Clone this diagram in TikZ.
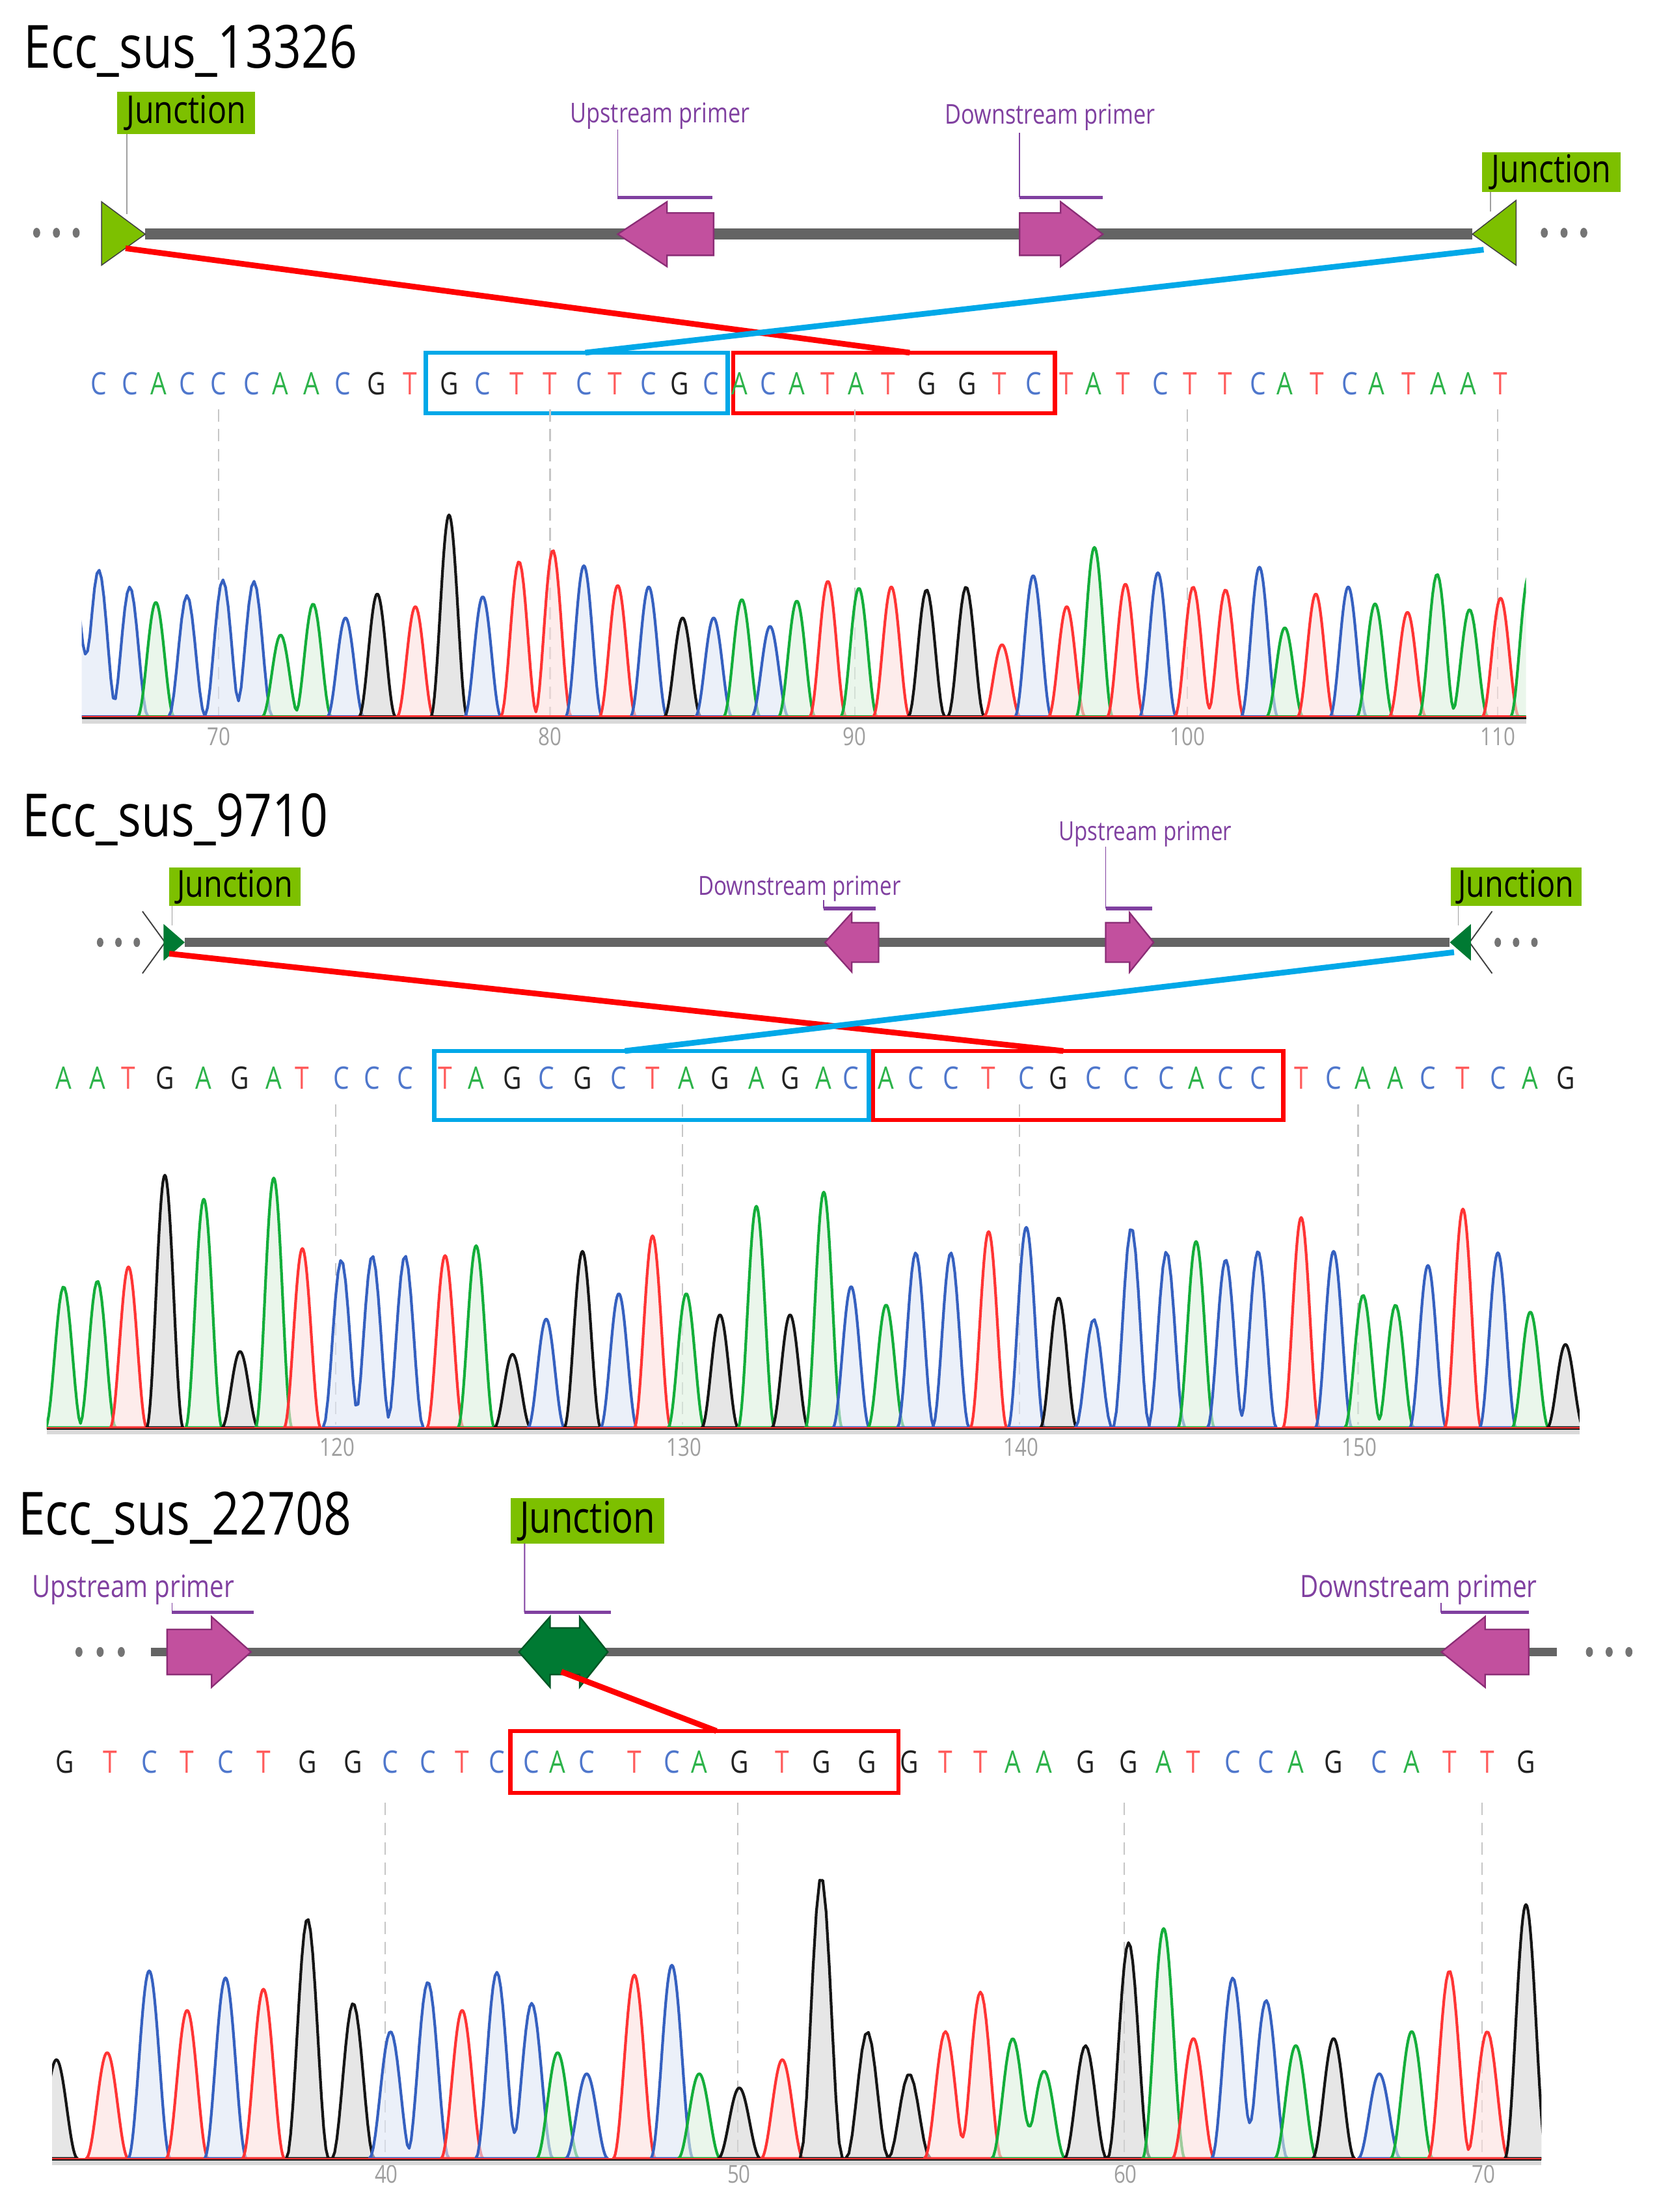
\documentclass[tikz,border=0pt]{standalone}
\usepackage{fontspec}
\setmainfont{Open Sans}[FakeStretch=0.82]
\usetikzlibrary{fit}

\definecolor{jlime}{HTML}{7DC000}
\definecolor{jdark}{HTML}{007A33}
\definecolor{prim}{HTML}{C2509E}
\definecolor{primdk}{HTML}{8A2C75}
\definecolor{plab}{HTML}{8040A0}
\definecolor{bbone}{HTML}{646464}
\definecolor{cutred}{HTML}{FF0000}
\definecolor{cutblue}{HTML}{00A8E8}
\definecolor{trA}{HTML}{13AE3A}
\definecolor{trC}{HTML}{3560C0}
\definecolor{trG}{HTML}{151515}
\definecolor{trT}{HTML}{FF3434}
\definecolor{fiA}{HTML}{DDF1DF}
\definecolor{fiC}{HTML}{DFE6F6}
\definecolor{fiG}{HTML}{D6D6D6}
\definecolor{fiT}{HTML}{FCE0DE}
\definecolor{lA}{HTML}{2DB34A}
\definecolor{lC}{HTML}{4F77CC}
\definecolor{lG}{HTML}{222222}
\definecolor{lT}{HTML}{FF5C5C}

\def\pw{13}   % half width of one peak
\def\base{508}

\tikzset{
    x=0.02cm, y=-0.02cm,
    declare function={bp(\t,\m,\k)=\k*(1+cos(180*min(abs(\t-\m),\pw)/\pw))/2;},
    every node/.style = {inner sep=0pt, outer sep=0pt},
    title/.style = {anchor=base west, font=\fontsize{24}{28}\selectfont},
    junc/.style = {fill=jlime, font=\fontsize{15.5}{18}\selectfont},
    plabel/.style = {text=plab, font=\fontsize{11}{13}\selectfont},
    bracket/.style = {draw=plab, line width=1.4pt},
    leader/.style = {draw=plab, line width=0.5pt},
    jleader/.style = {draw=gray!75, line width=0.5pt},
    backbone/.style = {draw=bbone, line width=4.4pt},
    dots/.style = {fill=bbone!90},
    jtri/.style = {fill=jlime, draw=gray!50!black, line width=0.4pt},
    primer/.style = {fill=prim, draw=primdk, line width=0.6pt, line join=miter},
    redbox/.style = {draw=cutred, line width=1.7pt},
    bluebox/.style = {draw=cutblue, line width=1.7pt},
    redline/.style = {draw=cutred, line width=2.3pt},
    blueline/.style = {draw=cutblue, line width=2.3pt},
    seq/.style = {font=\fontsize{12.5}{15}\selectfont},
    tick/.style = {draw=gray!45, line width=0.6pt, dash pattern=on 5pt off 3pt},
    tnum/.style = {text=gray!75, font=\fontsize{10}{12}\selectfont},
    axisbar/.style = {draw=gray!30, line width=2.2pt},
    tA/.style = {draw=trA, fill=fiA, fill opacity=.6, line width=1.1pt, line join=round},
    tC/.style = {draw=trC, fill=fiC, fill opacity=.6, line width=1.1pt, line join=round},
    tG/.style = {draw=trG, fill=fiG, fill opacity=.6, line width=1.1pt, line join=round},
    tT/.style = {draw=trT, fill=fiT, fill opacity=.6, line width=1.1pt, line join=round}
}

% one trace segment: neighbouring peaks of one colour summed
\newcommand{\peakrun}[2]{%
  \gdef\rexpr{0}%
  \foreach \pc/\ph [count=\rn] in {#2}{%
    \ifnum\rn=1 \xdef\rlo{\pc}\fi
    \xdef\rhi{\pc}%
    \xdef\rexpr{\unexpanded\expandafter{\rexpr}+bp(\noexpand\x,\pc,\ph)}%
  }%
  \filldraw[#1] plot[domain=\rlo-\pw:\rhi+\pw, samples=41] (\x,{\base-(\rexpr)}) -- cycle;
}

\begin{document}
\begin{tikzpicture}
  \useasboundingbox (0,0) rectangle (1176,1568);
  \fill[white] (0,0) rectangle (1176,1568);

  %% Ecc_sus_13326
  \node[title] (T1) at (17,48) {Ecc\_sus\_13326};
  \node[junc, minimum width=1.96cm, minimum height=.6cm] (J1a) at (132,80) {Junction};
  \node[junc, minimum width=1.96cm, minimum height=.56cm] (J1b) at (1100,122) {Junction};
  \node[plabel] (U1) at (468,82) {Upstream primer};
  \node[plabel] (D1) at (744.5,83) {Downstream primer};

  \draw[backbone] (103,166) -- (1044,166);
  \foreach \dx in {26,40,54,1095,1109,1123}
    \fill[dots] (\dx,165) ellipse[x radius=2.5, y radius=3.5];
  \filldraw[jtri] (72,143) -- (103,166) -- (72,188) -- cycle;
  \filldraw[jtri] (1075,142) -- (1044,166) -- (1075,188) -- cycle;
  \draw[jleader] (90,95) -- (90,152);
  \draw[jleader] (1057,136) -- (1057,150);

  \filldraw[primer] (438,166) -- (473,143) -- (473,151) -- (506,151) -- (506,181) -- (473,181) -- (473,189) -- cycle;
  \filldraw[primer] (782,166) -- (752,143) -- (752,151) -- (723,151) -- (723,181) -- (752,181) -- (752,189) -- cycle;
  \draw[bracket] (438,140) -- (505,140);
  \draw[leader] (438,140) -- (438,92);
  \draw[bracket] (723,140) -- (782,140);
  \draw[leader] (723,140) -- (723,94);

  \node[bluebox, fit={(302,250) (516,293)}] (B1) {};
  \node[redbox, fit={(520,250) (748,293)}] (R1) {};
  \coordinate (jl1) at (89,176);
  \coordinate (jr1) at (1052,177);
  \coordinate (rt1) at (645,250);
  \coordinate (bt1) at (415,250);
  \draw[redline] (jl1) -- (rt1);
  \draw[blueline] (jr1) -- (bt1);

  \foreach \sx/\sl [count=\i] in {70/C,92.1/C,112.4/A,132.6/C,154.7/C,178.6/C,198.8/A,220.9/A,243/C,266.9/G,290.7/T,318.4/G,342.3/C,366.2/T,390.1/T,414/C,436.1/T,460/C,482.1/G,504.2/C,524.4/A,544.6/C,564.9/A,587/T,607/A,630/T,657/G,686/G,708.5/T,733/C,756/T,775.5/A,796.5/T,823/C,844/T,869/T,892/C,911/A,934/T,957/C,976/A,999/T,1020/A,1041/A,1064/T}
    \node[seq, text=l\sl] (sa\i) at (\sx,272) {\sl};

  % chromatogram
  \foreach \tx/\tl in {155/70,390/80,606/90,842/100,1062/110}{
    \draw[tick] (\tx,290) -- (\tx,507);
    \node[tnum] (ta\tl) at (\tx,522) {\tl};
  }
  \draw[axisbar] (58,511) -- (1082,511);
  \begin{scope}
    \clip (58,300) rectangle (1082,515);
    \peakrun{tC}{52/100,70/104,92/92}
    \peakrun{tA}{110.5/81}
    \peakrun{tC}{132.6/86,158/97,180/96}
    \peakrun{tA}{199/58,222/80}
    \peakrun{tC}{245/70}
    \peakrun{tG}{267.5/87}
    \peakrun{tT}{294.5/78}
    \peakrun{tG}{318.4/143}
    \peakrun{tC}{342.3/85}
    \peakrun{tT}{368/110,392/118}
    \peakrun{tC}{414/107}
    \peakrun{tT}{438/93}
    \peakrun{tC}{460/92}
    \peakrun{tG}{484/70}
    \peakrun{tC}{506/70}
    \peakrun{tA}{526/83}
    \peakrun{tC}{546/64}
    \peakrun{tA}{565/82}
    \peakrun{tT}{587/96}
    \peakrun{tA}{609/91}
    \peakrun{tT}{632/92}
    \peakrun{tG}{657/90,685/92}
    \peakrun{tT}{710.5/51}
    \peakrun{tC}{732.6/100}
    \peakrun{tT}{756.4/78}
    \peakrun{tA}{776/120}
    \peakrun{tT}{798/94}
    \peakrun{tC}{821/102}
    \peakrun{tT}{846/92,869/90}
    \peakrun{tC}{893/106}
    \peakrun{tA}{911/63}
    \peakrun{tT}{933/87}
    \peakrun{tC}{956/92}
    \peakrun{tA}{975/80}
    \peakrun{tT}{998/74}
    \peakrun{tA}{1019/101,1042/76}
    \peakrun{tT}{1064/84}
    \peakrun{tA}{1084/100}
  \end{scope}
  \draw[trG, line width=.7pt] (58,509) -- (1082,509);
  \draw[trT, line width=.5pt] (58,508) -- (1082,508);

  %% Ecc_sus_9710
  \def\base{1012}
  \node[title] (T2) at (16,593) {Ecc\_sus\_9710};
  \node[junc, minimum width=1.86cm, minimum height=.54cm, font=\fontsize{15}{18}\selectfont] (J2a) at (166.5,628.5) {Junction};
  \node[junc, minimum width=1.86cm, minimum height=.54cm, font=\fontsize{15}{18}\selectfont] (J2b) at (1075,628.5) {Junction};
  \node[plabel, font=\fontsize{10.6}{13}\selectfont] (D2) at (567,630) {Downstream primer};
  \node[plabel, font=\fontsize{10.6}{13}\selectfont] (U2) at (812,591) {Upstream primer};

  \draw[backbone, line width=3.7pt] (131,668) -- (1028,668);
  \foreach \dx in {71,84,97,1062,1075,1088}
    \fill[dots] (\dx,668) ellipse[x radius=2.3, y radius=3.3];
  \draw[jleader, draw=gray!50!black] (101,646) -- (117,668) -- (101,690);
  \fill[jdark] (116,655) -- (131,668) -- (116,681) -- cycle;
  \draw[jleader, draw=gray!50!black] (1058,646) -- (1042,668) -- (1058,690);
  \fill[jdark] (1043,655) -- (1028,668) -- (1043,681) -- cycle;
  \draw[jleader] (122,642) -- (122,656);
  \draw[jleader] (1034,642) -- (1034,656);

  \filldraw[primer] (585,668) -- (604,647) -- (604,654) -- (623,654) -- (623,682) -- (604,682) -- (604,689) -- cycle;
  \draw[bracket] (584,644) -- (621,644);
  \draw[leader] (584,644) -- (584,638);
  \filldraw[primer] (818,668) -- (801,647) -- (801,654) -- (784,654) -- (784,682) -- (801,682) -- (801,689) -- cycle;
  \draw[bracket] (784,644) -- (817,644);
  \draw[leader] (784,644) -- (784,600);

  \node[bluebox, fit={(308,745) (616,794)}] (B2) {};
  \node[redbox, fit={(619,745) (910,794)}] (R2) {};
  \coordinate (jl2) at (120,676);
  \coordinate (jr2) at (1031,675);
  \coordinate (rt2) at (754,745);
  \coordinate (bt2) at (443,745);
  \draw[redline] (jl2) -- (rt2);
  \draw[blueline] (jr2) -- (bt2);

  \foreach \sx/\sl [count=\i] in {45.1/A,69.1/A,91.1/T,116.9/G,144.5/A,170.2/G,194.1/A,214.4/T,242/C,264/C,287.2/C,315.6/T,337.6/A,363.4/G,387.3/C,413/G,438.8/C,462.7/T,486.6/A,510.5/G,536.3/A,560.2/G,584.1/A,603.5/C,628.3/A,649.3/C,674.2/C,701/T,727.7/C,750.6/G,775.5/C,802.2/C,827.1/C,848.1/A,869.1/C,892/C,922.6/T,945.6/C,966.5/A,989.5/A,1012.5/C,1037.3/T,1062.1/C,1085.1/A,1110/G}
    \node[seq, text=l\sl] (sb\i) at (\sx,764) {\sl};

  \foreach \tx/\tl in {238/120,484/130,723/140,963/150}{
    \draw[tick] (\tx,783) -- (\tx,1010);
    \node[tnum] (tb\tl) at (\tx+1,1026) {\tl};
  }
  \draw[axisbar] (33,1015) -- (1120,1015);
  \begin{scope}
    \clip (33,790) rectangle (1120,1019);
    \peakrun{tA}{45.1/100,69.1/104}
    \peakrun{tT}{91.1/114}
    \peakrun{tG}{116.9/179}
    \peakrun{tA}{144.5/162}
    \peakrun{tG}{170.2/54}
    \peakrun{tA}{194.1/177}
    \peakrun{tT}{214.4/127}
    \peakrun{tC}{242/119,264/122,287.2/122}
    \peakrun{tT}{315.6/122}
    \peakrun{tA}{337.6/129}
    \peakrun{tG}{363.4/52}
    \peakrun{tC}{387.3/77}
    \peakrun{tG}{413/125}
    \peakrun{tC}{438.8/95}
    \peakrun{tT}{462.7/136}
    \peakrun{tA}{486.6/95}
    \peakrun{tG}{510.5/80}
    \peakrun{tA}{536.3/157}
    \peakrun{tG}{560.2/80}
    \peakrun{tA}{584.1/167}
    \peakrun{tC}{603.5/100}
    \peakrun{tA}{628.3/87}
    \peakrun{tC}{649.3/124,674.2/124}
    \peakrun{tT}{701/139}
    \peakrun{tC}{727.7/142}
    \peakrun{tG}{750.6/92}
    \peakrun{tC}{775.5/77,802.2/142,827.1/125}
    \peakrun{tA}{848.1/132}
    \peakrun{tC}{869.1/119,892/125}
    \peakrun{tT}{922.6/149}
    \peakrun{tC}{945.6/125}
    \peakrun{tA}{966.5/94,989.5/87}
    \peakrun{tC}{1012.5/115}
    \peakrun{tT}{1037.3/155}
    \peakrun{tC}{1062.1/124}
    \peakrun{tA}{1085.1/82}
    \peakrun{tG}{1110/59}
  \end{scope}
  \draw[trG, line width=.7pt] (33,1013) -- (1120,1013);
  \draw[trT, line width=.5pt] (33,1012) -- (1120,1012);

  %% Ecc_sus_22708
  \def\base{1530}
  \def\pw{15}
  \node[title] (T3) at (13,1088) {Ecc\_sus\_22708};
  \node[junc, minimum width=2.18cm, minimum height=.64cm, font=\fontsize{17.5}{20}\selectfont] (J3) at (416.5,1078) {Junction};
  \node[plabel, font=\fontsize{12.4}{15}\selectfont] (U3) at (94.5,1127) {Upstream primer};
  \node[plabel, font=\fontsize{12.4}{15}\selectfont] (D3) at (1006,1127) {Downstream primer};

  \draw[backbone, line width=3.4pt] (107,1171) -- (1104,1171);
  \foreach \dx in {56,71,86,1127,1141,1155}
    \fill[dots] (\dx,1171) ellipse[x radius=2.5, y radius=3.5];

  \filldraw[primer] (178,1171) -- (150,1146) -- (150,1155) -- (118.5,1155) -- (118.5,1187) -- (150,1187) -- (150,1196) -- cycle;
  \draw[bracket] (122,1143) -- (180,1143);
  \draw[leader] (122,1143) -- (122,1136);
  \filldraw[primer] (1022,1171) -- (1053,1146) -- (1053,1155) -- (1084,1155) -- (1084,1187) -- (1053,1187) -- (1053,1196) -- cycle;
  \draw[bracket] (1022,1143) -- (1084,1143);
  \draw[leader] (1022,1143) -- (1022,1136);
  \filldraw[primer, fill=jdark, draw=jdark!70!black] (368,1171) -- (390,1146) -- (390,1154) -- (411,1154) -- (411,1146) -- (431,1171) -- (411,1196) -- (411,1187) -- (390,1187) -- (390,1196) -- cycle;
  \draw[bracket] (372,1143) -- (433,1143);
  \draw[leader] (J3.south west) ++(10,0) -- (372,1143);

  \node[redbox, fit={(362,1227) (637,1271)}] (R3) {};
  \coordinate (jc3) at (398,1185);
  \coordinate (rt3) at (508,1227);
  \draw[redline] (jc3) -- (rt3);

  \foreach \sx/\sl [count=\i] in {45.9/G,78.3/T,105.8/C,132.7/T,159.9/C,186.8/T,218/G,250.4/G,276.9/C,303.4/C,327.7/T,352.3/C,377/C,395.4/A,416/C,449.8/T,476.4/C,495.8/A,524.2/G,554.7/T,582.3/G,615/G,644.7/G,670.4/T,695.2/T,718.1/A,740.3/A,769.7/G,800.3/G,825.1/A,846.2/T,874.1/C,897.8/C,918.8/A,945.6/G,978/C,1001/A,1027.7/T,1054.5/T,1082/G}
    \node[seq, text=l\sl] (sc\i) at (\sx,1249) {\sl};

  \foreach \tx/\tl in {273/40,523/50,797/60,1051/70}{
    \draw[tick] (\tx,1278) -- (\tx,1528);
    \node[tnum] (tc\tl) at (\tx+1,1541) {\tl};
  }
  \draw[axisbar] (37,1533) -- (1093,1533);
  \begin{scope}
    \clip (37,1290) rectangle (1093,1537);
    \peakrun{tG}{40/70}
    \peakrun{tT}{76/75}
    \peakrun{tC}{105.8/133}
    \peakrun{tT}{132.7/105}
    \peakrun{tC}{159.9/128}
    \peakrun{tT}{186.8/120}
    \peakrun{tG}{218/170,250.4/110}
    \peakrun{tC}{276.9/90,303.4/125}
    \peakrun{tT}{327.7/105}
    \peakrun{tC}{352.3/132,377/110}
    \peakrun{tA}{395.4/75}
    \peakrun{tC}{416/60}
    \peakrun{tT}{449.8/130}
    \peakrun{tC}{476.4/137}
    \peakrun{tA}{495.8/60}
    \peakrun{tG}{524.2/50}
    \peakrun{tT}{554.7/70}
    \peakrun{tG}{582.3/200,615/90,644.7/60}
    \peakrun{tT}{670.4/90,695.2/118}
    \peakrun{tA}{718.1/85,740.3/62}
    \peakrun{tG}{769.7/80,800.3/153}
    \peakrun{tA}{825.1/163}
    \peakrun{tT}{846.2/85}
    \peakrun{tC}{874.1/128,897.8/112}
    \peakrun{tA}{918.8/80}
    \peakrun{tG}{945.6/85}
    \peakrun{tC}{978/60}
    \peakrun{tA}{1001/90}
    \peakrun{tT}{1027.7/133,1054.5/90}
    \peakrun{tG}{1082/180}
  \end{scope}
  \draw[trG, line width=.7pt] (37,1531) -- (1093,1531);
  \draw[trT, line width=.5pt] (37,1530) -- (1093,1530);

\end{tikzpicture}
\end{document}
